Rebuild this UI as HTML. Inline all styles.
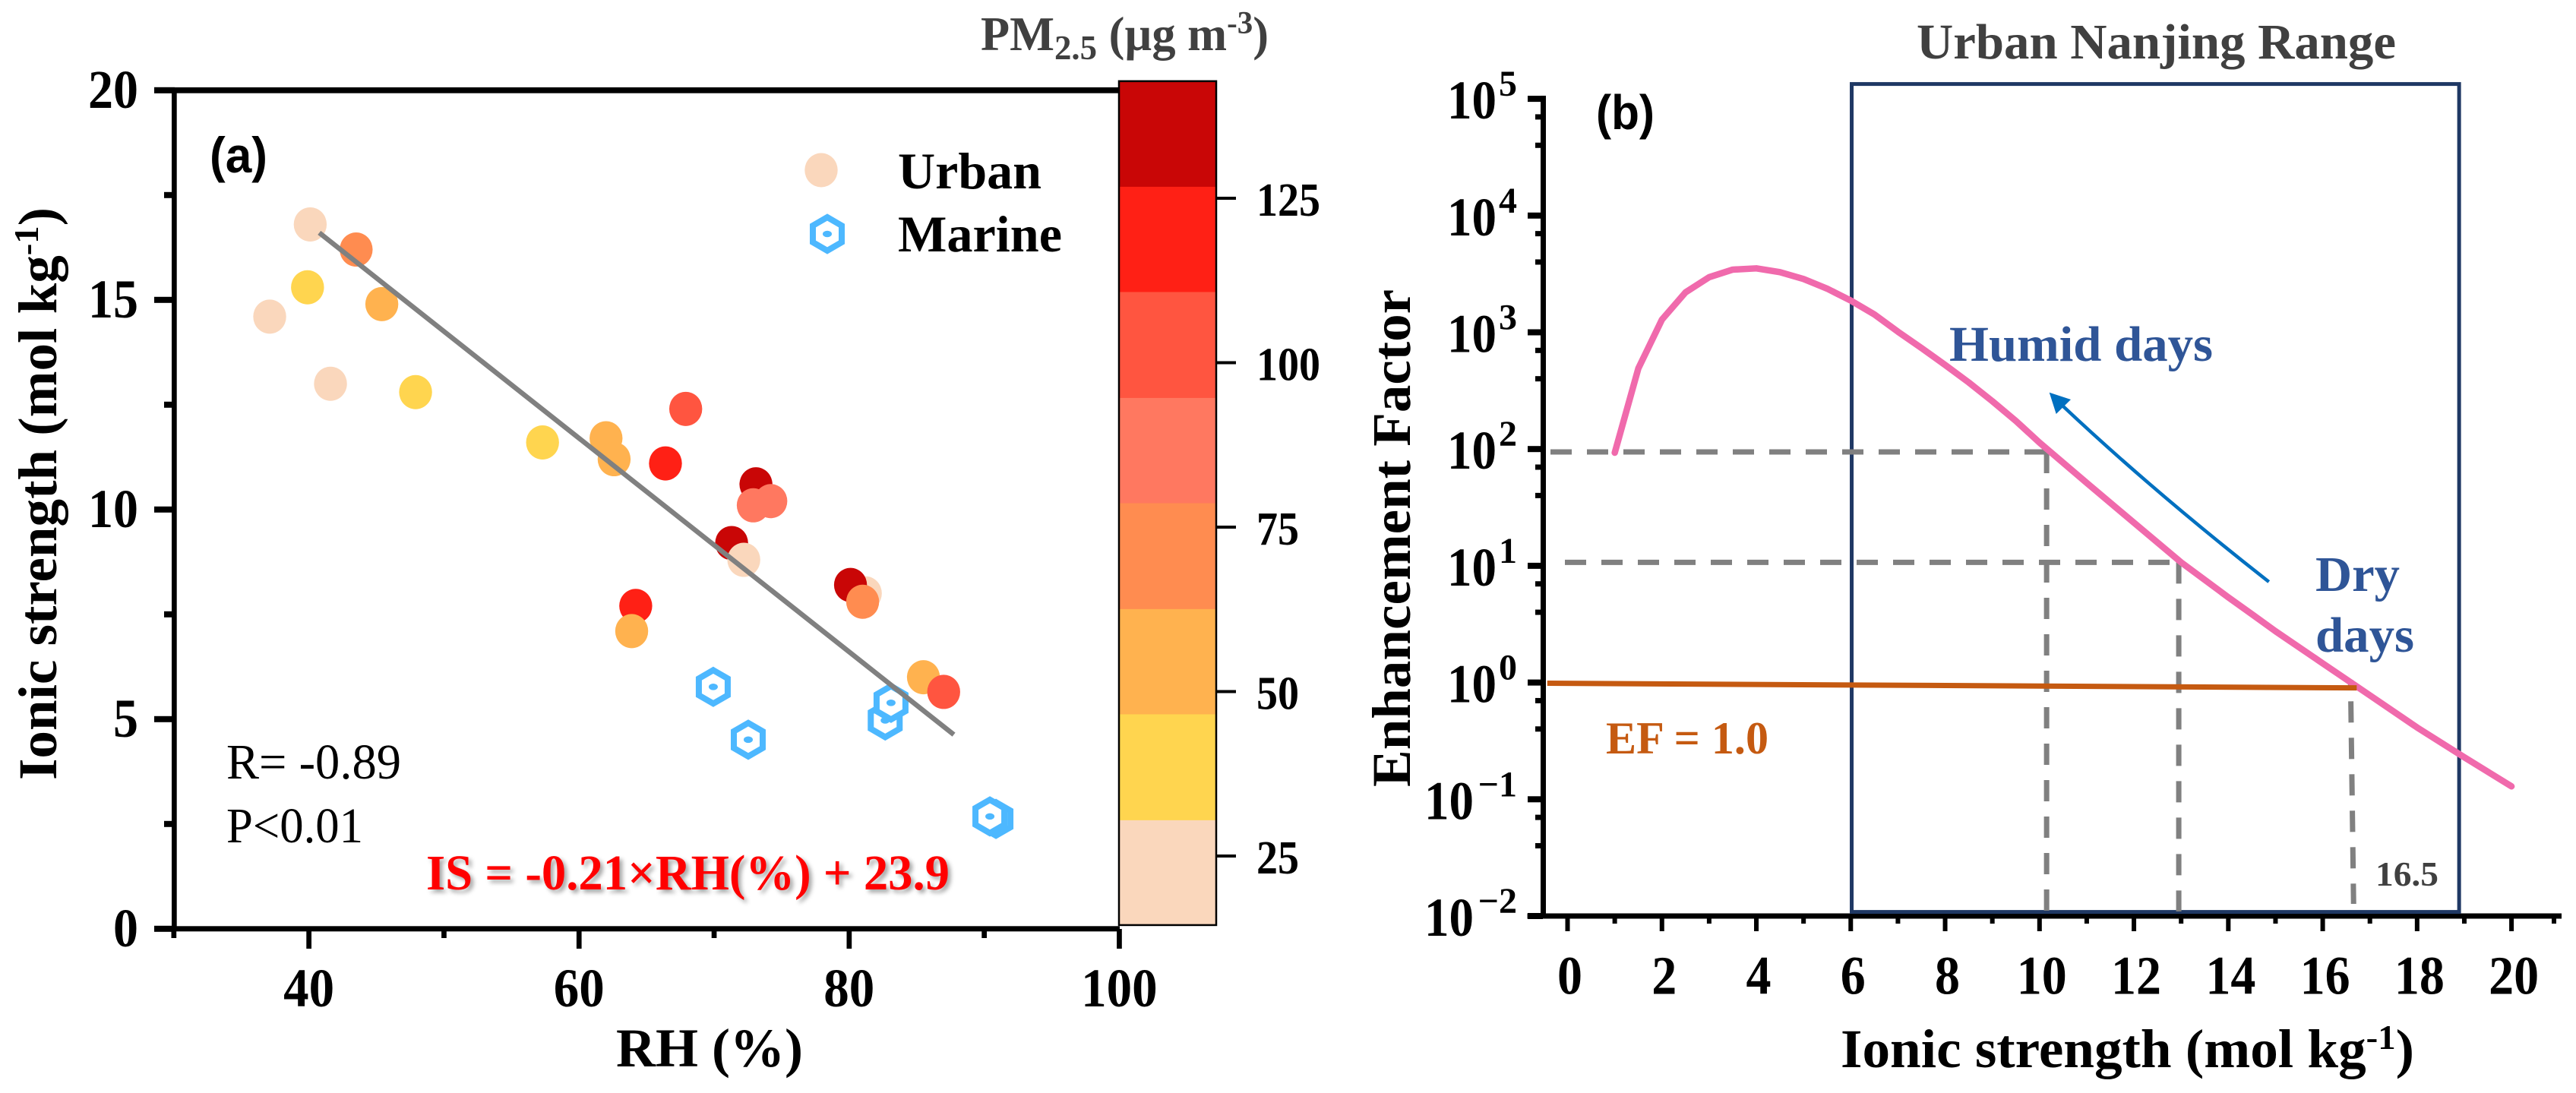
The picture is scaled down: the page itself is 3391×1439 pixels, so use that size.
<!DOCTYPE html>
<html lang="en">
<head>
<meta charset="utf-8">
<title>Ionic strength and enhancement factor</title>
<style>
html,body{margin:0;padding:0;background:#fff;}
svg{display:block;}
text{font-family:"Liberation Serif","Noto Serif CJK SC",serif;}
.b{font-weight:bold;}
.sans{font-family:"Liberation Sans","Noto Sans CJK SC",sans-serif;font-weight:bold;}
</style>
</head>
<body>
<svg id="fig" xmlns="http://www.w3.org/2000/svg" width="3391" height="1439" viewBox="0 0 3391 1439">
<rect width="3391" height="1439" fill="#fff"/>
<g id="panelA"></g>
<g id="panelB"></g>

<text class="sans" x="276" y="227" font-size="66" textLength="76" lengthAdjust="spacingAndGlyphs">(a)</text>
<text class="b" transform="translate(74,1027) rotate(-90)" font-size="72" textLength="754" lengthAdjust="spacingAndGlyphs">Ionic strength (mol kg<tspan dy="-24" font-size="46">-1</tspan><tspan dy="24">)</tspan></text>
<text class="b" x="811" y="1404" font-size="72" textLength="246" lengthAdjust="spacingAndGlyphs">RH (%)</text>
<text class="b" x="1291" y="66" font-size="64" fill="#404040" textLength="379" lengthAdjust="spacingAndGlyphs">PM<tspan dy="12" font-size="46">2.5</tspan><tspan dy="-12"> (µg m</tspan><tspan dy="-22" font-size="42">-3</tspan><tspan dy="22">)</tspan></text>
<text class="b" x="1182" y="248" font-size="68" textLength="189" lengthAdjust="spacingAndGlyphs">Urban</text>
<text class="b" x="1182" y="331" font-size="68" textLength="216" lengthAdjust="spacingAndGlyphs">Marine</text>
<text x="298" y="1025" font-size="66" textLength="230" lengthAdjust="spacingAndGlyphs">R= -0.89</text>
<text x="298" y="1109" font-size="66" textLength="180" lengthAdjust="spacingAndGlyphs">P&lt;0.01</text>
<text class="b" x="561" y="1171" font-size="66" fill="#FF0000" textLength="689" lengthAdjust="spacingAndGlyphs" style="filter:drop-shadow(4px 4px 3px rgba(0,0,0,.35));">IS = -0.21×RH(%) + 23.9</text>

<text class="sans" x="2101" y="170" font-size="64" textLength="77" lengthAdjust="spacingAndGlyphs">(b)</text>
<text class="b" x="2523" y="77" font-size="66" fill="#404040" textLength="631" lengthAdjust="spacingAndGlyphs">Urban Nanjing Range</text>
<text class="b" transform="translate(1856,1036) rotate(-90)" font-size="72" textLength="655" lengthAdjust="spacingAndGlyphs">Enhancement Factor</text>
<text class="b" x="2423" y="1405" font-size="72" textLength="755" lengthAdjust="spacingAndGlyphs">Ionic strength (mol kg<tspan dy="-24" font-size="46">-1</tspan><tspan dy="24">)</tspan></text>
<text class="b" x="2566" y="475" font-size="66" fill="#2F5597" textLength="347" lengthAdjust="spacingAndGlyphs">Humid days</text>
<text class="b" x="3048" y="778" font-size="66" fill="#2F5597" textLength="111" lengthAdjust="spacingAndGlyphs">Dry</text>
<text class="b" x="3048" y="858" font-size="66" fill="#2F5597" textLength="130" lengthAdjust="spacingAndGlyphs">days</text>
<text class="b" x="2114" y="992" font-size="60" fill="#C55A11" textLength="214" lengthAdjust="spacingAndGlyphs">EF = 1.0</text>
<text class="b" x="3127" y="1166" font-size="46" fill="#404040" textLength="83" lengthAdjust="spacingAndGlyphs">16.5</text>
</svg>

<script>
// ---------- Panel (a) data ----------
const urbanRH = [40.1,37.1,41.6,81.2,72.2,39.9,47.9,57.3,45.4,62.0,62.6,63.9,85.5,43.5,81.0,74.2,72.9,67.9,87.0,66.4,64.2,73.1,71.3,80.1];
const urbanIS = [16.8,14.6,13.0,8.0,8.8,15.3,12.8,11.6,14.9,11.7,11.2,7.1,6.0,16.2,7.8,10.2,10.1,12.4,5.65,11.1,7.7,10.6,9.2,8.2];
const urbanPM = [22,22,22,22,22,38,38,38,55,55,55,55,55,70,70,87,87,103,103,118,118,135,135,135];
const drawOrder = [0,1,2,3,5,6,7,8,9,10,13,21,15,16,17,19,22,4,23,14,20,11,12,18];
const marineRH = [69.94,72.53,82.67,83.1,90.87,90.42];
const marineIS = [5.77,4.51,4.97,5.39,2.62,2.68];
const trendRH = [40.77,87.75];
const trendIS = [16.6,4.63];
const xTicksA = [30,40,50,60,70,80,90,100];
const xTickLabelsA = [40,60,80,100];
const yTicksA = [0,2.5,5,7.5,10,12.5,15,17.5,20];
const yTickLabelsA = [0,5,10,15,20];
const colorBounds = [14.5,30.5,46.6,62.6,78.7,94.7,110.8,126.8,142.8];
const colorSteps = ['#FAD7BC','#FFD54F','#FFB24F','#FF8C50','#FF7860','#FF5540','#FF2015','#C90606'];
const colorTicks = [25,50,75,100,125];

// ---------- Panel (b) data ----------
const curveIS = [1,1.5,2,2.5,3,3.5,4,4.5,5,5.5,6,6.5,7,7.5,8,8.5,9,9.5,10,11,12,13,14,14.5,15,16,17,18,19,20];
const curveEF = [93,491,1285,2200,2965,3443,3530,3275,2863,2366,1870,1423,1012,733,525,372,257,174,113.5,51.3,23.4,10.7,5.37,3.85,2.75,1.46,0.776,0.412,0.229,0.129];
const unityIS = [-0.43,16.72];
const unityEF = [0.986,0.90];
const guideIS = [10.15,12.95,16.59];
const guideEF = [94.5,10.7,1.05];
const rangeIS = [6.02,18.89];
const xTicksB = [0,1,2,3,4,5,6,7,8,9,10,11,12,13,14,15,16,17,18,19,20,20.9];
const xTickLabelsB = [0,2,4,6,8,10,12,14,16,18,20];
const yExponents = [-2,-1,0,1,2,3,4,5];
const minorFractions = [0.155,0.398];

// ---------- Axis functions ----------
const xA = v => 406.6 + (v - 40) * 17.78;
const yA = v => 1222.8 - v * 55.2;
const yC = v => 1127 - (v - 25) * 8.66;
const xB = v => 2063.5 + v * 62.13;
const yBlog = e => 1206 - (e + 2) * 153.7;
const yB = v => yBlog(Math.log10(v));

const NS = 'http://www.w3.org/2000/svg';
function mk(tag, attrs, parent) {
  const n = document.createElementNS(NS, tag);
  for (const k in attrs) n.setAttribute(k, attrs[k]);
  parent.appendChild(n);
  return n;
}
function colorOf(v) {
  for (let i = 0; i < colorSteps.length; i++) if (v <= colorBounds[i + 1]) return colorSteps[i];
  return colorSteps[colorSteps.length - 1];
}
function hexPoints(cx, cy, rx, ry) {
  return [[0,-1],[1,-0.5],[1,0.5],[0,1],[-1,0.5],[-1,-0.5]].map(p => (cx + p[0] * rx) + ',' + (cy + p[1] * ry)).join(' ');
}

const A = document.getElementById('panelA');
const B = document.getElementById('panelB');

// ---------- Panel (a) ----------
const axA1 = mk('rect', {x:203, y:115, width:1271, height:7.7, fill:'#000'}, A);


const axA2 = mk('rect', {x:203, y:1219.3, width:1271, height:7, fill:'#000'}, A);


const axA3 = mk('rect', {x:226, y:115, width:6.7, height:1111, fill:'#000'}, A);



xTicksA.forEach(v => {
  const major = xTickLabelsA.includes(v);
  const t = mk('rect', {x:xA(v) - 3.3, y:1223, width:6.7, height:major ? 26 : 12, fill:'#000'}, A);
  
  
});
xTickLabelsA.forEach(v => {
  const s = String(v);
  const t = mk('text', {x:xA(v), y:1325, 'text-anchor':'middle', 'font-size':72, 'font-weight':'bold', textLength:s.length * 33.5, lengthAdjust:'spacingAndGlyphs'}, A);
  t.textContent = s;
  
  
});
yTicksA.forEach(v => {
  const major = yTickLabelsA.includes(v);
  const left = major ? 203 : 216;
  const t = mk('rect', {x:left, y:yA(v) - 4, width:230 - left, height:8, fill:'#000'}, A);
  
  
});
yTickLabelsA.forEach(v => {
  const s = String(v);
  const t = mk('text', {x:182, y:yA(v) + 23, 'text-anchor':'end', 'font-size':72, 'font-weight':'bold', textLength:s.length * 33, lengthAdjust:'spacingAndGlyphs'}, A);
  t.textContent = s;
  
  
});

drawOrder.forEach(i => {
  const c = mk('ellipse', {cx:xA(urbanRH[i]), cy:yA(urbanIS[i]), rx:21.7, ry:22.5, fill:colorOf(urbanPM[i])}, A);
  
  
});

marineRH.forEach((v, i) => {
  const cx = xA(v), cy = yA(marineIS[i]);
  const h = mk('polygon', {points:hexPoints(cx, cy, 19, 22), fill:'#fff', stroke:'#4DB8FF', 'stroke-width':8}, A);
  
  
  const d = mk('ellipse', {cx:cx, cy:cy, rx:6, ry:4.3, fill:'#4DB8FF'}, A);
  
  
});

const trend = mk('line', {x1:xA(trendRH[0]), y1:yA(trendIS[0]), x2:xA(trendRH[1]), y2:yA(trendIS[1]), stroke:'#808080', 'stroke-width':6.5}, A);



const legC = mk('ellipse', {cx:1081, cy:224, rx:21.7, ry:22.5, fill:colorSteps[0]}, A);


const legH = mk('polygon', {points:hexPoints(1089, 308, 19, 22), fill:'#fff', stroke:'#4DB8FF', 'stroke-width':8}, A);


const legD = mk('ellipse', {cx:1089, cy:308, rx:6, ry:4.3, fill:'#4DB8FF'}, A);



colorSteps.forEach((col, i) => {
  const y1 = yC(colorBounds[i + 1]), y0 = yC(colorBounds[i]);
  const r = mk('rect', {x:1473, y:y1, width:128, height:y0 - y1 + 0.5, fill:col}, A);
  
  
});
const cbOut = mk('rect', {x:1473, y:yC(colorBounds[8]), width:128, height:yC(colorBounds[0]) - yC(colorBounds[8]), fill:'none', stroke:'#000', 'stroke-width':2.5}, A);


colorTicks.forEach(v => {
  const t = mk('rect', {x:1601, y:yC(v) - 2, width:26, height:4, fill:'#000'}, A);
  
  
  const s = String(v);
  const l = mk('text', {x:1654, y:yC(v) + 23, 'font-size':62, 'font-weight':'bold', textLength:s.length * 28, lengthAdjust:'spacingAndGlyphs'}, A);
  l.textContent = s;
  
  
});

// ---------- Panel (b) ----------
const axB1 = mk('rect', {x:2028, y:126, width:7, height:1082, fill:'#000'}, B);


const axB2 = mk('rect', {x:2010.6, y:1202.5, width:1361.4, height:7, fill:'#000'}, B);



yExponents.forEach(e => {
  const y = yBlog(e);
  const t = mk('rect', {x:2011, y:y - 4, width:20, height:8, fill:'#000'}, B);
  
  
  if (e > -2) minorFractions.forEach(f => {
    const m = mk('rect', {x:2021, y:yBlog(e - f) - 3.5, width:10, height:7, fill:'#000'}, B);
    
    
  });
  const base = e < 0 ? 1940 : 1970;
  const l = mk('text', {x:base, y:y + 26, 'text-anchor':'end', 'font-size':72, 'font-weight':'bold', textLength:65, lengthAdjust:'spacingAndGlyphs'}, B);
  l.textContent = '10';
  
  
  const sup = mk('text', {x:1997, y:y - 4, 'text-anchor':'end', 'font-size':48, 'font-weight':'bold'}, B);
  sup.textContent = e < 0 ? '\u2212' + Math.abs(e) : String(e);
  
  
});

xTicksB.forEach((v, i) => {
  const major = i % 2 === 0 && v <= 20;
  const t = mk('rect', {x:xB(v) - 3, y:1206, width:6, height:major ? 20 : 10, fill:'#000'}, B);
  
  
});
xTickLabelsB.forEach(v => {
  const s = String(v);
  const l = mk('text', {x:xB(v) + 3, y:1308.5, 'text-anchor':'middle', 'font-size':72, 'font-weight':'bold', textLength:s.length * 33, lengthAdjust:'spacingAndGlyphs'}, B);
  l.textContent = s;
  
  
});

const rangeBox = mk('rect', {x:xB(rangeIS[0]), y:110.6, width:xB(rangeIS[1]) - xB(rangeIS[0]), height:1090, fill:'none', stroke:'#1F3864', 'stroke-width':5}, B);



const g1 = mk('line', {x1:2041, y1:yB(guideEF[0]), x2:xB(guideIS[0]), y2:yB(guideEF[0]), stroke:'#808080', 'stroke-width':7, 'stroke-dasharray':'28 20'}, B);


const g2 = mk('line', {x1:2060, y1:yB(guideEF[1]), x2:xB(guideIS[1]), y2:yB(guideEF[1]), stroke:'#808080', 'stroke-width':7, 'stroke-dasharray':'28 20'}, B);


const v1 = mk('line', {x1:xB(guideIS[0]), y1:yB(guideEF[0]), x2:xB(guideIS[0]), y2:1200, stroke:'#808080', 'stroke-width':7, 'stroke-dasharray':'28 20'}, B);


const v2 = mk('line', {x1:xB(guideIS[1]), y1:yB(guideEF[1]), x2:xB(guideIS[1]), y2:1200, stroke:'#808080', 'stroke-width':7, 'stroke-dasharray':'28 20'}, B);


const v3 = mk('line', {x1:xB(guideIS[2]), y1:yB(guideEF[2]), x2:xB(guideIS[2]) + 4, y2:1190, stroke:'#808080', 'stroke-width':7, 'stroke-dasharray':'28 20', 'stroke-dashoffset':20}, B);



const curve = mk('polyline', {points:curveIS.map((v, i) => xB(v) + ',' + yB(curveEF[i])).join(' '), fill:'none', stroke:'#F06AAC', 'stroke-width':8.5, 'stroke-linejoin':'round', 'stroke-linecap':'round'}, B);



const unity = mk('line', {x1:xB(unityIS[0]), y1:yB(unityEF[0]), x2:xB(unityIS[1]), y2:yB(unityEF[1]), stroke:'#C55A11', 'stroke-width':7}, B);



const arrowLine = mk('path', {d:'M2986.7 766 Q2835 647 2716 535', fill:'none', stroke:'#0070C0', 'stroke-width':4.5}, B);


const arrowHead = mk('polygon', {points:'2697.7,516.7 2726,526 2706.7,545', fill:'#0070C0'}, B);


</script>
</body>
</html>
